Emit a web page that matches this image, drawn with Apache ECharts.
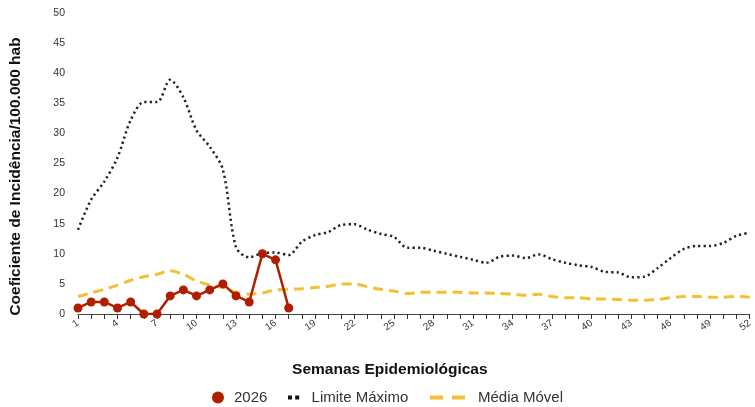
<!DOCTYPE html>
<html>
<head>
<meta charset="utf-8">
<script src="https://cdn.jsdelivr.net/npm/echarts@6/dist/echarts.min.js"></script>
<style>html,body{margin:0;padding:0;background:#fff}#c{width:755px;height:407px}</style>
</head>
<body>
<div id="c"></div>
<script>
const weeks = Array.from({length: 52}, (_, i) => String(i + 1));
const cases2026 = [1, 2, 2, 1, 2, 0, 0, 3, 4, 3, 4, 5, 3, 2, 10, 9, 1];
const limiteMaximo = [14, 19, 22, 26, 32.2, 35.2, 35.2, 38.9, 36, 30.5, 27.8, 24, 11.1, 9.4, 10.1, 10.2, 9.8, 12, 13.1, 13.6, 14.8, 14.9, 14, 13.3, 12.8, 11, 11, 10.5, 10, 9.5, 9, 8.5, 9.5, 9.7, 9.3, 9.9, 9.1, 8.5, 8.1, 7.8, 7, 6.9, 6.1, 6.2, 7.6, 9.3, 10.8, 11.3, 11.3, 11.8, 13, 13.5];
const mediaMovel = [2.9, 3.5, 4.1, 4.8, 5.6, 6.2, 6.6, 7.2, 6.6, 5.5, 4.8, 4.4, 3.6, 3.3, 3.5, 4, 4.1, 4.2, 4.4, 4.6, 5, 5, 4.5, 4.1, 3.8, 3.4, 3.6, 3.6, 3.6, 3.6, 3.5, 3.5, 3.4, 3.3, 3.1, 3.3, 2.9, 2.7, 2.7, 2.5, 2.5, 2.4, 2.3, 2.3, 2.4, 2.7, 2.9, 2.9, 2.8, 2.8, 2.9, 2.8];
const seriesNames = ['2026', 'Limite Máximo', 'Média Móvel'];
const FONT = "'Liberation Sans', Arial, sans-serif";
const RED = '#B01E00', YEL = '#F3C035', BLK = '#222';

function legendText(pad) {
  return {fontSize: 15, color: '#333', fontFamily: FONT, padding: [0, 0, 0, pad]};
}
const chart = echarts.init(document.getElementById('c'));
chart.setOption({
  animation: false,
  textStyle: {fontFamily: FONT},
  grid: {left: 78, right: 5, top: 13, bottom: 93},
  legend: [
    {
      left: 212, top: 390, padding: 0, itemWidth: 12, itemHeight: 12,
      textStyle: legendText(5),
      data: [{name: seriesNames[0], icon: 'circle', itemStyle: {color: RED}}]
    },
    {
      left: 288, top: 390, padding: 0, itemWidth: 14, itemHeight: 4,
      textStyle: legendText(6),
      data: [{name: seriesNames[1], icon: 'path://M0,0h5v5h-5z M9,0h5v5h-5z', itemStyle: {color: '#111'}}]
    },
    {
      left: 430, top: 390, padding: 0, itemWidth: 35, itemHeight: 4,
      textStyle: legendText(8),
      data: [{name: seriesNames[2], icon: 'path://M0,0h13v4h-13z M22,0h13v4h-13z', itemStyle: {color: YEL}}]
    }
  ],
  xAxis: {
    type: 'category',
    data: weeks,
    boundaryGap: false,
    name: 'Semanas Epidemiológicas',
    nameLocation: 'middle',
    nameGap: 48,
    nameTextStyle: {fontSize: 15.5, fontWeight: 'bold', color: '#111', fontFamily: FONT, padding: [0, 48, 0, 0]},
    axisLine: {lineStyle: {color: '#444', width: 1}},
    axisTick: {alignWithLabel: true, interval: 0, length: 5, lineStyle: {color: '#333'}},
    axisLabel: {interval: 2, rotate: 35, fontSize: 10, color: '#333', margin: 8, fontFamily: FONT},
    splitLine: {show: false}
  },
  yAxis: {
    type: 'value',
    min: 0,
    max: 50,
    interval: 5,
    name: 'Coeficiente de Incidência/100.000 hab',
    nameLocation: 'middle',
    nameGap: 54,
    nameTextStyle: {fontSize: 15.5, fontWeight: 'bold', color: '#111', fontFamily: FONT, padding: [0, 26, 0, 0]},
    axisLine: {show: false},
    axisTick: {show: false},
    axisLabel: {fontSize: 10.5, color: '#333', margin: 13, fontFamily: FONT},
    splitLine: {show: false}
  },
  series: [
    {
      name: seriesNames[1],
      type: 'line',
      data: limiteMaximo,
      smooth: 0.3,
      showSymbol: false,
      symbol: 'none',
      lineStyle: {color: BLK, width: 2.5, type: [2.2, 3.2]},
      itemStyle: {color: BLK},
      z: 2
    },
    {
      name: seriesNames[2],
      type: 'line',
      data: mediaMovel,
      smooth: 0.3,
      showSymbol: false,
      symbol: 'none',
      lineStyle: {color: YEL, width: 3, type: [10, 6]},
      itemStyle: {color: YEL},
      z: 2
    },
    {
      name: seriesNames[0],
      type: 'line',
      data: cases2026,
      symbol: 'circle',
      symbolSize: 9,
      showAllSymbol: true,
      lineStyle: {color: RED, width: 2.5},
      itemStyle: {color: RED},
      z: 3
    }
  ]
});
</script>
</body>
</html>
